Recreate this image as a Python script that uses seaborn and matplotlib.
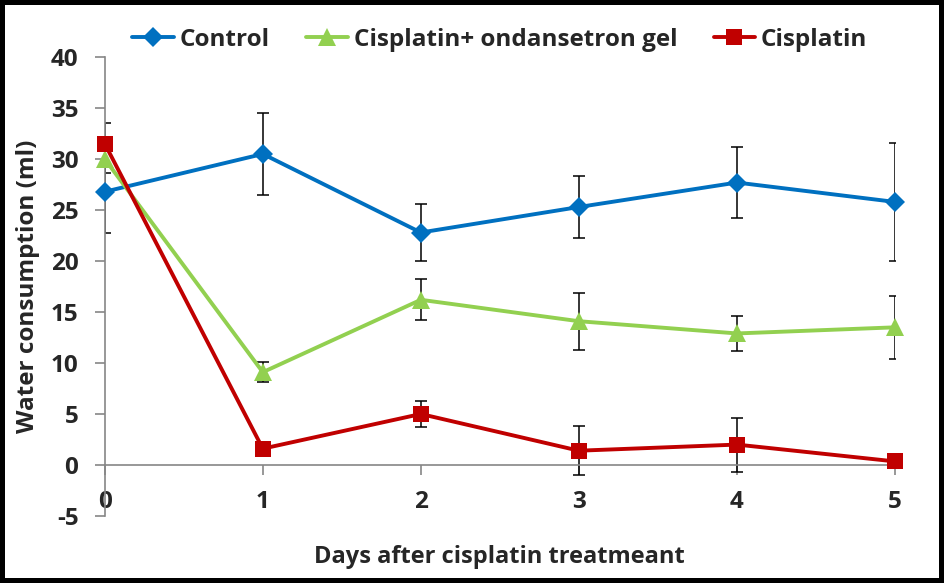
import matplotlib
matplotlib.use('Agg')
import matplotlib.pyplot as plt
import numpy as np
import pandas as pd
import seaborn as sns

# data
days = [0, 1, 2, 3, 4, 5]
control = [26.8, 30.5, 22.8, 25.3, 27.7, 25.8]
control_err = [4.0, 4.0, 2.8, 3.0, 3.5, 5.8]
gel = [30.0, 9.1, 16.2, 14.1, 12.9, 13.5]
gel_err = [1.4, 1.0, 2.0, 2.8, 1.75, 3.1]
cis = [31.5, 1.6, 5.0, 1.4, 2.0, 0.35]
cis_err = [2.0, 0.5, 1.3, 2.4, 2.65, 0.3]
groups = ['Control', 'Cisplatin+ ondansetron gel', 'Cisplatin']

colors = {'Control': '#0070C0', 'Cisplatin+ ondansetron gel': '#92D050', 'Cisplatin': '#C00000'}
markers = {'Control': 'D', 'Cisplatin+ ondansetron gel': '^', 'Cisplatin': 's'}
msizes = {'Control': 10.5, 'Cisplatin+ ondansetron gel': 12.5, 'Cisplatin': 11}

df = pd.concat([
    pd.DataFrame({'day': days, 'value': v, 'err': e, 'group': g})
    for g, v, e in zip(groups, [control, gel, cis], [control_err, gel_err, cis_err])
])

sns.set_style('white')
plt.rcParams['font.family'] = ['Open Sans', 'DejaVu Sans']
plt.rcParams['font.weight'] = 'bold'

fig = plt.figure(figsize=(9.44, 5.83), dpi=100, edgecolor='black', linewidth=7)
ax = fig.add_axes([0.111, 0.115, 0.837, 0.787])

# error bars first so markers sit on top
for g in groups:
    sub = df[df.group == g]
    ax.errorbar(sub.day, sub.value, yerr=sub.err, fmt='none', ecolor='black',
                elinewidth=1.1, capsize=4, capthick=1.1, zorder=1)

for g in groups:
    sub = df[df.group == g]
    sns.lineplot(data=sub, x='day', y='value', color=colors[g], marker=markers[g],
                 markersize=msizes[g], markeredgewidth=0, linewidth=2.8,
                 label=g, ax=ax, zorder=3, clip_on=False)

ax.set_xlim(0, 5)
ax.set_ylim(-5, 40)
ax.set_yticks(np.arange(-5, 41, 5))
ax.set_xticks(days)
ax.set_yticklabels([str(v) for v in np.arange(-5, 41, 5)])

ax.spines['top'].set_visible(False)
ax.spines['right'].set_visible(False)
ax.spines['bottom'].set_position(('data', 0))
for s in ['left', 'bottom']:
    ax.spines[s].set_color('#868686')
    ax.spines[s].set_linewidth(1.2)

ax.tick_params(axis='y', direction='out', length=7, width=1.2, color='#868686',
               labelsize=17.5, pad=12, left=True)
ax.tick_params(axis='x', direction='out', length=7, width=1.2, color='#868686',
               labelsize=17.5, pad=11, bottom=True)
for lab in ax.get_xticklabels() + ax.get_yticklabels():
    lab.set_fontweight('bold')

ax.set_xlabel('Days after cisplatin treatmeant', fontsize=17, fontweight='bold')
ax.set_ylabel('Water consumption (ml)', fontsize=17.5, fontweight='bold', labelpad=8)
ax.xaxis.set_label_coords(0.5, -0.063)

ax.legend(loc='center', bbox_to_anchor=(0.5, 1.038), ncol=3, frameon=False,
          prop={'size': 17.5, 'weight': 'bold'}, handlelength=1.7, handletextpad=0.25,
          columnspacing=1.5, borderaxespad=0.0)

fig.savefig('out.png', dpi=100)
